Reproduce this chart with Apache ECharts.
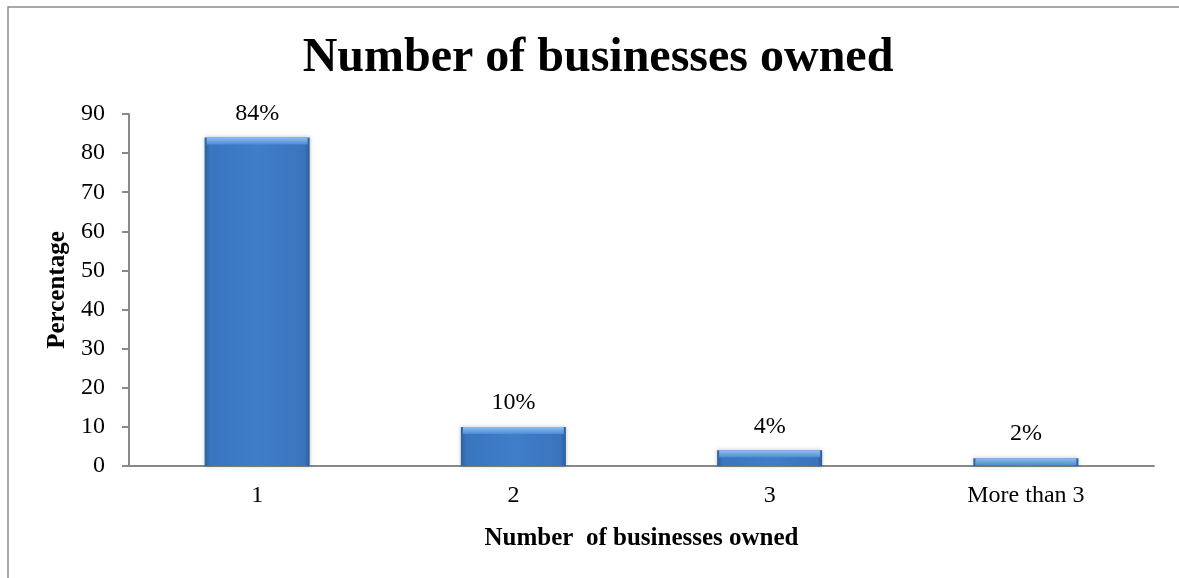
<!DOCTYPE html>
<html>
<head>
<meta charset="utf-8">
<title>Number of businesses owned</title>
<script src="https://cdn.jsdelivr.net/npm/echarts@6/dist/echarts.min.js"></script>
<style>
  html, body { margin: 0; padding: 0; background: #ffffff; }
  #chart { width: 1179px; height: 578px; }
</style>
</head>
<body>
<div id="chart"></div>
<script>
// Share of respondents by number of businesses owned
const categories = ['1', '2', '3', 'More than 3'];
const percentages = [84, 10, 4, 2];
const yTicks = { min: 0, max: 90, interval: 10 };

const serif = '"Liberation Serif", "Times New Roman", serif';
const BAR_W = 105;

// beveled blue bar body
const barFill = new echarts.graphic.LinearGradient(0, 0, 1, 0, [
  { offset: 0, color: '#2f5e9c' },
  { offset: 0.05, color: '#3a75be' },
  { offset: 0.5, color: '#3f7ec9' },
  { offset: 0.95, color: '#3a74bc' },
  { offset: 1, color: '#2e5b98' }
]);
// lighter bevel strip along the top of each bar
const capFill = new echarts.graphic.LinearGradient(0, 0, 0, 1, [
  { offset: 0, color: '#8dbdf0' },
  { offset: 1, color: '#4f8dd5' }
]);

const chart = echarts.init(document.getElementById('chart'), null, { renderer: 'canvas' });

chart.setOption({
  backgroundColor: '#ffffff',
  animation: false,
  title: {
    text: 'Number of businesses owned',
    left: 593,
    textAlign: 'center',
    top: 30,
    textStyle: {
      fontFamily: serif,
      fontWeight: 'bold',
      fontSize: 48,
      color: '#000000'
    }
  },
  graphic: [{
    type: 'rect',
    shape: { x: 8, y: 7, width: 1190, height: 600 },
    style: { fill: 'none', stroke: '#8c8c8c', lineWidth: 1.5 },
    silent: true,
    z: -1
  }],
  grid: { left: 129, right: 25, top: 114, bottom: 112 },
  xAxis: {
    type: 'category',
    data: categories,
    name: 'Number  of businesses owned',
    nameLocation: 'middle',
    nameGap: 60,
    nameTextStyle: {
      fontFamily: serif,
      fontWeight: 'bold',
      fontSize: 25,
      color: '#000000'
    },
    axisLine: { lineStyle: { color: '#888888', width: 2 } },
    axisTick: { show: false },
    axisLabel: {
      margin: 18,
      fontFamily: serif,
      fontSize: 24,
      color: '#000000'
    },
    splitLine: { show: false }
  },
  yAxis: {
    type: 'value',
    min: yTicks.min,
    max: yTicks.max,
    interval: yTicks.interval,
    name: 'Percentage',
    nameLocation: 'middle',
    nameRotate: 90,
    nameGap: 45,
    nameTextStyle: {
      fontFamily: serif,
      fontWeight: 'bold',
      fontSize: 25,
      color: '#000000'
    },
    axisLine: { show: true, lineStyle: { color: '#888888', width: 2 } },
    axisTick: { show: true, inside: false, length: 7, lineStyle: { color: '#888888', width: 2 } },
    axisLabel: {
      margin: 24,
      fontFamily: serif,
      fontSize: 24,
      color: '#000000'
    },
    splitLine: { show: false }
  },
  series: [{
    type: 'bar',
    data: percentages,
    barWidth: BAR_W,
    itemStyle: {
      color: barFill,
      shadowColor: 'rgba(0,0,0,0.25)',
      shadowBlur: 4
    },
    label: {
      show: true,
      position: 'top',
      distance: 12,
      formatter: '{c}%',
      fontFamily: serif,
      fontSize: 24,
      color: '#000000'
    }
  }, {
    type: 'pictorialBar',
    data: percentages,
    barGap: '-100%',
    symbol: 'rect',
    symbolSize: [BAR_W - 4, 7],
    symbolPosition: 'end',
    itemStyle: { color: capFill },
    silent: true,
    z: 3
  }]
});
</script>
</body>
</html>
